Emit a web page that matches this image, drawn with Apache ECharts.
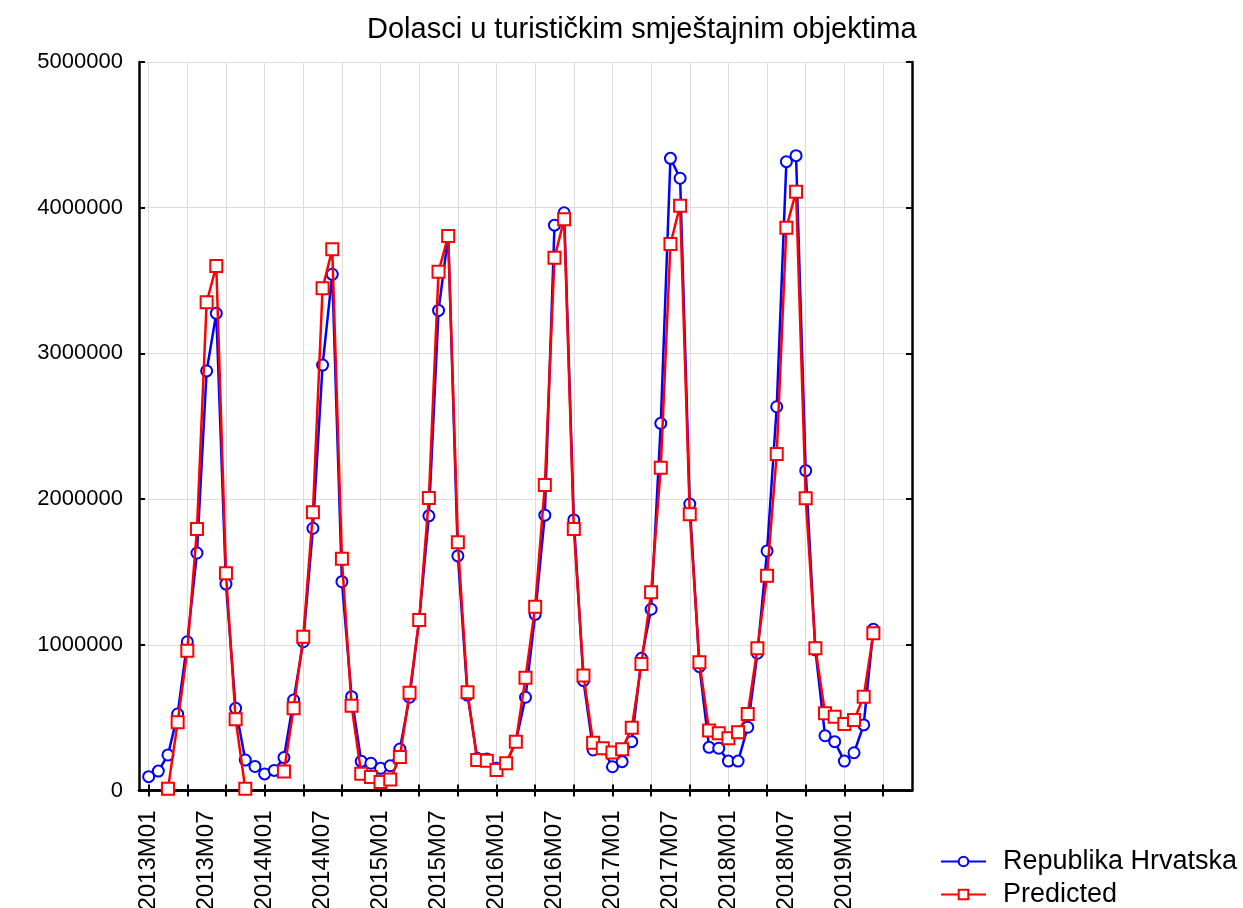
<!DOCTYPE html>
<html>
<head>
<meta charset="utf-8">
<script src="https://cdn.jsdelivr.net/npm/echarts@6/dist/echarts.min.js"></script>
<style>
html,body{margin:0;padding:0;background:#fff;}
#chart{width:1243px;height:908px;}
</style>
</head>
<body>
<div id="chart"></div>
<script>
// Months shown on the axis: 2012M12 .. 2019M08 (data starts 2013M01)
const firstYear = 2012, firstMonth = 12, monthCount = 81;
const months = [];
for (let i = 0; i < monthCount; i++) {
  const m0 = firstMonth - 1 + i;
  const y = firstYear + Math.floor(m0 / 12);
  const m = (m0 % 12) + 1;
  months.push(y + 'M' + (m < 10 ? '0' + m : m));
}

// Observed arrivals, 2013M01 .. 2019M04
const hrvatska = [
  95000, 133000, 244000, 525000, 1021000, 1630000, 2880000, 3275000, 1417000, 564000, 209000, 165000,
  114000, 138000, 226000, 621000, 1021000, 1800000, 2920000, 3543000, 1433000, 644000, 200000, 187000,
  152000, 170000, 285000, 640000, 1175000, 1885000, 3295000, 3806000, 1610000, 655000, 221000, 217000,
  152000, 187000, 335000, 640000, 1209000, 1890000, 3880000, 3965000, 1857000, 754000, 278000, 287000,
  163000, 198000, 335000, 907000, 1244000, 2520000, 4339000, 4202000, 1966000, 850000, 296000, 290000,
  202000, 202000, 434000, 942000, 1644000, 2634000, 4316000, 4357000, 2195000, 965000, 376000, 335000,
  202000, 259000, 450000, 1106000
];

// Predicted, 2013M01 .. 2019M04
const predicted = [
  null, null, 12000, 468000, 960000, 1795000, 3351000, 3600000, 1491000, 489000, 12000, null,
  null, null, 130000, 564000, 1056000, 1910000, 3447000, 3714000, 1590000, 582000, 115000, 92000,
  58000, 75000, 230000, 671000, 1170000, 2008000, 3561000, 3806000, 1703000, 674000, 209000, 205000,
  141000, 187000, 335000, 774000, 1262000, 2097000, 3656000, 3920000, 1795000, 790000, 328000, 290000,
  260000, 283000, 431000, 868000, 1360000, 2216000, 3751000, 4014000, 1896000, 880000, 411000, 393000,
  358000, 399000, 525000, 976000, 1474000, 2310000, 3863000, 4110000, 2006000, 976000, 530000, 507000,
  456000, 484000, 644000, 1079000
];

const yTicks = [0, 1000000, 2000000, 3000000, 4000000, 5000000];
const titleText = 'Dolasci u turističkim smještajnim objektima';
const seriesNames = ['Republika Hrvatska', 'Predicted'];

function pad(arr) {
  const out = [null];
  for (const v of arr) out.push(v);
  while (out.length < months.length) out.push(null);
  return out;
}

const tickEvery4 = (idx) => (idx - 1) >= 0 && (idx - 1) % 4 === 0;
const labelEvery6 = (idx) => (idx - 1) >= 0 && (idx - 1) % 6 === 0 && idx <= 73;

const FONT = 'Liberation Sans, Arial, sans-serif';
const axisLineStyle = { color: '#000', width: 2.5 };

const legendBase = {
  orient: 'vertical', left: 940, padding: 0,
  itemWidth: 45, itemHeight: 12,
  textStyle: { fontFamily: FONT, fontSize: 27, color: '#000', padding: [0, 0, 0, 12] }
};

const chart = echarts.init(document.getElementById('chart'), null, { renderer: 'canvas' });
chart.setOption({
  animation: false,
  backgroundColor: '#fff',
  title: {
    text: titleText,
    left: 362, top: 10,
    textStyle: { fontFamily: FONT, fontSize: 29, fontWeight: 'normal', color: '#000' }
  },
  legend: [
    Object.assign({}, legendBase, { top: 848, data: [seriesNames[0]] }),
    Object.assign({}, legendBase, { top: 881, data: [seriesNames[1]] })
  ],
  grid: { left: 139, right: 331, top: 62, bottom: 117.5, containLabel: false, outerBoundsMode: 'none' },
  xAxis: [{
    type: 'category', data: months, boundaryGap: false, position: 'bottom',
    axisLine: { lineStyle: axisLineStyle },
    axisTick: { show: true, inside: true, length: 6, interval: tickEvery4, lineStyle: { color: '#000', width: 2 } },
    axisLabel: { interval: labelEvery6, rotate: 90, margin: 20, fontFamily: FONT, fontSize: 24, color: '#000' },
    splitLine: { show: true, interval: tickEvery4, lineStyle: { color: '#dcdcdc', width: 1 } }
  }, {
    type: 'category', data: months, boundaryGap: false, position: 'top',
    axisLine: { lineStyle: axisLineStyle },
    axisTick: { show: true, inside: true, length: 6, interval: tickEvery4, lineStyle: { color: '#000', width: 2 } },
    axisLabel: { show: false },
    splitLine: { show: false }
  }],
  yAxis: [{
    type: 'value', min: yTicks[0], max: yTicks[yTicks.length - 1], interval: yTicks[1] - yTicks[0],
    position: 'left',
    axisLine: { show: true, lineStyle: axisLineStyle },
    axisTick: { show: true, inside: true, length: 6, lineStyle: { color: '#000', width: 2 } },
    axisLabel: { margin: 16, fontFamily: FONT, fontSize: 22, color: '#000', formatter: (v) => String(v) },
    splitLine: { show: true, lineStyle: { color: '#dcdcdc', width: 1 } }
  }, {
    type: 'value', min: yTicks[0], max: yTicks[yTicks.length - 1], interval: yTicks[1] - yTicks[0],
    position: 'right',
    axisLine: { show: true, lineStyle: axisLineStyle },
    axisTick: { show: true, inside: true, length: 6, lineStyle: { color: '#000', width: 2 } },
    axisLabel: { show: false },
    splitLine: { show: false }
  }],
  series: [{
    name: seriesNames[0], type: 'line', xAxisIndex: 0, yAxisIndex: 0,
    data: pad(hrvatska),
    symbol: 'emptyCircle', symbolSize: 11, showAllSymbol: true,
    connectNulls: false,
    lineStyle: { color: '#0000ff', width: 2.5 },
    itemStyle: { color: '#0000ff', borderWidth: 2.5 },
    z: 2
  }, {
    name: seriesNames[1], type: 'line', xAxisIndex: 0, yAxisIndex: 0,
    data: pad(predicted),
    symbol: 'emptyRect', symbolSize: 12, showAllSymbol: true,
    connectNulls: false,
    lineStyle: { color: '#ff0000', width: 2.5 },
    itemStyle: { color: '#ff0000', borderWidth: 2.5 },
    z: 3
  }]
});
</script>
</body>
</html>
